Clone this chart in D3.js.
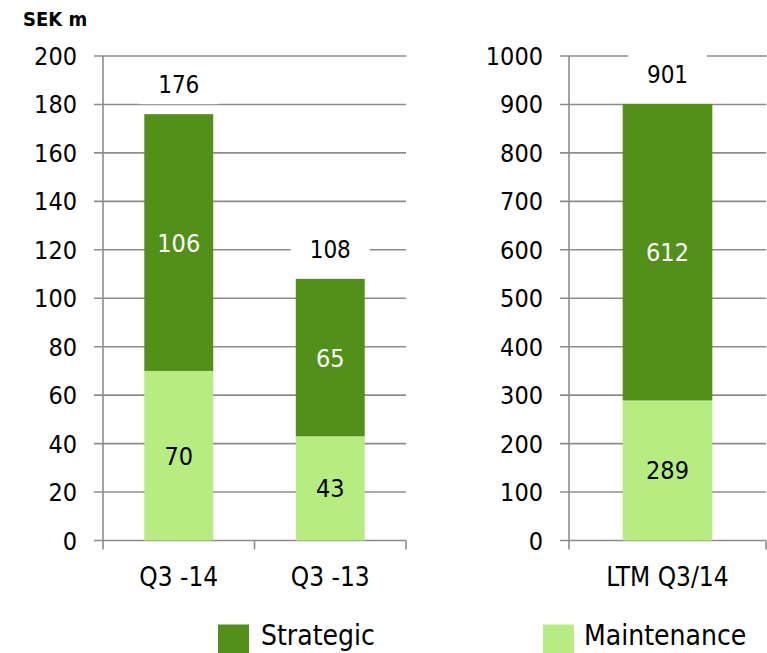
<!DOCTYPE html>
<html>
<head>
<meta charset="utf-8">
<script src="https://cdn.jsdelivr.net/npm/d3@7"></script>
<style>
  html, body { margin: 0; padding: 0; background: #fff; }
  svg { display: block; }
  text { font-family: "DejaVu Sans Condensed", "DejaVu Sans", sans-serif; }
</style>
</head>
<body>
<svg id="chart" width="767" height="653"></svg>
<script>
// Quarterly capex split, SEK m
const quarterCategories = ["Q3 -14", "Q3 -13"];
const quarterMaintenance = [70, 43];
const quarterStrategic = [106, 65];
const quarterTicks = [0, 20, 40, 60, 80, 100, 120, 140, 160, 180, 200];

// Last twelve months
const ltmCategories = ["LTM Q3/14"];
const ltmMaintenance = [289];
const ltmStrategic = [612];
const ltmTicks = [0, 100, 200, 300, 400, 500, 600, 700, 800, 900, 1000];

const seriesNames = ["Strategic", "Maintenance"];
const colors = { Strategic: "#52901a", Maintenance: "#b6ec80" };
const gridColor = "#8c8c8c";

const svg = d3.select("#chart");
const yTop = 56, yBottom = 540.5;

function panel(opts) {
  const g = svg.append("g");
  const x = d3.scaleBand().domain(opts.categories).range([opts.x0, opts.x1]).paddingInner(0).paddingOuter(0);
  const y = d3.scaleLinear().domain([0, d3.max(opts.ticks)]).range([yBottom, yTop]);

  // horizontal gridlines with left tick marks
  g.selectAll("line.grid").data(opts.ticks).join("line")
    .attr("x1", opts.x0 - 9).attr("x2", opts.x1)
    .attr("y1", d => y(d)).attr("y2", d => y(d))
    .attr("stroke", gridColor).attr("stroke-width", 1.6);

  // value axis line
  g.append("line")
    .attr("x1", opts.x0).attr("x2", opts.x0)
    .attr("y1", yTop).attr("y2", yBottom + 9)
    .attr("stroke", gridColor).attr("stroke-width", 1.6);

  // category boundary ticks
  const bounds = opts.categories.map(c => x(c)).concat([opts.x1]);
  g.selectAll("line.ctick").data(bounds.slice(1)).join("line")
    .attr("x1", d => d).attr("x2", d => d)
    .attr("y1", yBottom).attr("y2", yBottom + 9)
    .attr("stroke", gridColor).attr("stroke-width", 1.6);

  // y tick labels
  g.selectAll("text.ytick").data(opts.ticks).join("text")
    .attr("x", opts.x0 - 26).attr("y", d => y(d))
    .attr("dy", "0.36em").attr("text-anchor", "end")
    .attr("font-size", 25).attr("fill", "#000")
    .text(d => d);

  const rows = opts.categories.map((c, i) => ({
    cat: c, Maintenance: opts.maintenance[i], Strategic: opts.strategic[i]
  }));
  const stack = d3.stack().keys(["Maintenance", "Strategic"])(rows);
  const bw = x.bandwidth() * 0.455;
  const cx = c => x(c) + x.bandwidth() / 2;

  stack.forEach(layer => {
    g.selectAll(null).data(layer).join("rect")
      .attr("x", d => cx(d.data.cat) - bw / 2)
      .attr("width", bw)
      .attr("y", d => y(d[1]))
      .attr("height", d => y(d[0]) - y(d[1]))
      .attr("fill", colors[layer.key]);
    g.selectAll(null).data(layer).join("text")
      .attr("x", d => cx(d.data.cat))
      .attr("y", d => (y(d[0]) + y(d[1])) / 2)
      .attr("dy", "0.36em").attr("text-anchor", "middle")
      .attr("font-size", 25)
      .attr("fill", layer.key === "Strategic" ? "#fff" : "#000")
      .text(d => d[1] - d[0]);
  });

  // totals above bars, on a white label box
  rows.forEach(r => {
    const total = r.Maintenance + r.Strategic;
    const ly = y(total) - 30;
    g.append("rect")
      .attr("x", cx(r.cat) - 39.5).attr("width", 79)
      .attr("y", ly - 20).attr("height", 40)
      .attr("fill", "#fff");
    g.append("text")
      .attr("x", cx(r.cat)).attr("y", ly)
      .attr("dy", "0.36em").attr("text-anchor", "middle")
      .attr("font-size", 24).attr("fill", "#000")
      .text(total);
  });

  // category labels
  g.selectAll("text.cat").data(opts.categories).join("text")
    .attr("x", d => cx(d)).attr("y", 577)
    .attr("dy", "0.36em").attr("text-anchor", "middle")
    .attr("font-size", 26).attr("fill", "#000")
    .text(d => d);
}

panel({ categories: quarterCategories, maintenance: quarterMaintenance, strategic: quarterStrategic,
        ticks: quarterTicks, x0: 103, x1: 406 });
panel({ categories: ltmCategories, maintenance: ltmMaintenance, strategic: ltmStrategic,
        ticks: ltmTicks, x0: 569, x1: 766 });

// unit label
svg.append("text")
  .attr("x", 23).attr("y", 26)
  .attr("font-family", "DejaVu Sans, sans-serif")
  .attr("font-weight", "bold").attr("font-size", 20)
  .text("SEK m");

// legend
const legendPos = { Strategic: [218, 261], Maintenance: [543, 584] };
seriesNames.forEach(name => {
  const [sx, tx] = legendPos[name];
  svg.append("rect").attr("x", sx).attr("y", 624.5).attr("width", 31).attr("height", 31)
    .attr("fill", colors[name]);
  svg.append("text").attr("x", tx).attr("y", 645)
    .attr("font-size", 28).attr("fill", "#000")
    .text(name);
});
</script>
</body>
</html>
